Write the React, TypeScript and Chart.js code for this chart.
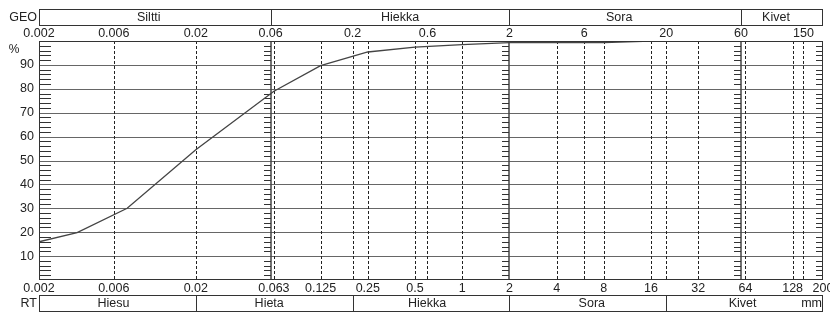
import React, { useEffect, useRef } from 'react';
import { Chart, registerables } from 'chart.js';

Chart.register(...registerables);

// Grain size (mm) and percentage passing
const sizes = [0.002, 0.0035, 0.0073, 0.02, 0.063, 0.125, 0.25, 0.5, 1, 2, 4, 8, 16];
const passing = [16, 19.8, 30, 54.5, 79, 89.7, 95.4, 97.4, 98.5, 99.3, 99.3, 99.3, 100];

const topTicks = [0.002, 0.006, 0.02, 0.06, 0.2, 0.6, 2, 6, 20, 60, 150];
const topTickLabels = ['0.002', '0.006', '0.02', '0.06', '0.2', '0.6', '2', '6', '20', '60', '150'];
const bottomTicks = [0.002, 0.006, 0.02, 0.063, 0.125, 0.25, 0.5, 1, 2, 4, 8, 16, 32, 64, 128, 200];
const bottomTickLabels = ['0.002', '0.006', '0.02', '0.063', '0.125', '0.25', '0.5', '1', '2', '4', '8', '16', '32', '64', '128', '200'];
const yTicks = [10, 20, 30, 40, 50, 60, 70, 80, 90];

const geoBounds = [0.002, 0.06, 2, 60, 200];
const geoNames = ['Siltti', 'Hiekka', 'Sora', 'Kivet'];
const rtBounds = [0.002, 0.02, 0.2, 2, 20, 200];
const rtNames = ['Hiesu', 'Hieta', 'Hiekka', 'Sora', 'Kivet'];

// styling offsets (px) for the class labels
const geoLabelShift = [-6, 10, -6, -6];
const rtLabelShift = [-4, -5, -4, 4, -2];

const FONT = '"Liberation Sans", Arial, sans-serif';

const gradPlugin = {
  id: 'gradPlugin',
  beforeDatasetsDraw(chart: any) {
    const { ctx, chartArea } = chart;
    const xs = chart.scales.x;
    const ys = chart.scales.y;
    const px = (v: number) => Math.round(xs.getPixelForValue(v)) + 0.5;
    const py = (v: number) => Math.round(ys.getPixelForValue(v)) + 0.5;
    const top = Math.round(chartArea.top);
    const bottom = Math.round(chartArea.bottom);
    ctx.save();
    // horizontal gridlines
    ctx.strokeStyle = '#666';
    ctx.lineWidth = 1;
    yTicks.forEach((t) => {
      ctx.beginPath();
      ctx.moveTo(chartArea.left, py(t));
      ctx.lineTo(chartArea.right, py(t));
      ctx.stroke();
    });
    // dashed verticals
    const dashed = Array.from(new Set([...topTicks, ...bottomTicks])).filter(
      (v) => geoBounds.indexOf(v) < 0
    );
    ctx.strokeStyle = '#222';
    ctx.setLineDash([3, 2]);
    dashed.forEach((v) => {
      ctx.beginPath();
      ctx.moveTo(px(v), top);
      ctx.lineTo(px(v), bottom);
      ctx.stroke();
    });
    ctx.setLineDash([]);
    // solid class boundaries
    ctx.strokeStyle = '#444';
    ctx.lineWidth = 1.5;
    geoBounds.slice(1, -1).forEach((v) => {
      const x = Math.round(xs.getPixelForValue(v));
      ctx.beginPath();
      ctx.moveTo(x, top);
      ctx.lineTo(x, bottom);
      ctx.stroke();
    });
    // minor ticks every 2 %
    ctx.lineWidth = 1;
    ctx.strokeStyle = '#333';
    for (let p = 2; p < 100; p += 2) {
      if (p % 10 === 0) continue;
      const y = py(p);
      geoBounds.forEach((v, i) => {
        const x = Math.round(xs.getPixelForValue(v));
        ctx.beginPath();
        if (i === 0) {
          ctx.moveTo(x, y);
          ctx.lineTo(x + 12, y);
        } else {
          ctx.moveTo(x - 7, y);
          ctx.lineTo(x, y);
        }
        ctx.stroke();
      });
    }
    ctx.restore();
  },
  afterDatasetsDraw(chart: any) {
    const { ctx, chartArea } = chart;
    const xs = chart.scales.x;
    const ys = chart.scales.y;
    const px = (v: number) => Math.round(xs.getPixelForValue(v)) + 0.5;
    const left = Math.round(chartArea.left) + 0.5;
    const right = Math.round(chartArea.right) - 0.5;
    const top = Math.round(chartArea.top) + 0.5;
    const bottom = Math.round(chartArea.bottom) - 0.5;
    ctx.save();
    ctx.strokeStyle = '#333';
    ctx.lineWidth = 1;
    ctx.strokeRect(left, top, right - left, bottom - top);

    // top GEO box
    const gTop = 9.5, gBot = 25.5;
    ctx.strokeRect(left, gTop, right - left, gBot - gTop);
    geoBounds.slice(1, -1).forEach((v) => {
      ctx.beginPath();
      ctx.moveTo(px(v), gTop);
      ctx.lineTo(px(v), gBot);
      ctx.stroke();
    });
    // bottom RT box
    const rTop = 295.5, rBot = 311.5;
    ctx.strokeRect(left, rTop, right - left, rBot - rTop);
    rtBounds.slice(1, -1).forEach((v) => {
      ctx.beginPath();
      ctx.moveTo(px(v), rTop);
      ctx.lineTo(px(v), rBot);
      ctx.stroke();
    });

    ctx.fillStyle = '#222';
    ctx.font = '12.5px ' + FONT;
    ctx.textBaseline = 'middle';
    ctx.textAlign = 'center';
    geoNames.forEach((n, i) => {
      const cx = (xs.getPixelForValue(geoBounds[i]) + xs.getPixelForValue(geoBounds[i + 1])) / 2;
      ctx.fillText(n, cx + geoLabelShift[i], 18);
    });
    rtNames.forEach((n, i) => {
      const cx = (xs.getPixelForValue(rtBounds[i]) + xs.getPixelForValue(rtBounds[i + 1])) / 2;
      ctx.fillText(n, cx + rtLabelShift[i], 304);
    });
    topTicks.forEach((v, i) => ctx.fillText(topTickLabels[i], xs.getPixelForValue(v), 34));
    bottomTicks.forEach((v, i) => ctx.fillText(bottomTickLabels[i], xs.getPixelForValue(v), 289));

    ctx.textAlign = 'right';
    yTicks.forEach((t) => ctx.fillText(String(t), 34, ys.getPixelForValue(t)));
    ctx.fillText('GEO', 37, 18);
    ctx.fillText('RT', 37, 304);
    ctx.fillText('mm', 822, 304);
    ctx.textAlign = 'center';
    ctx.font = '12px ' + FONT;
    ctx.fillText('%', 14, 50);
    ctx.restore();
  },
};

export default function App() {
  const ref = useRef<HTMLCanvasElement>(null);
  useEffect(() => {
    if (!ref.current) return;
    const chart = new Chart(ref.current, {
      type: 'line',
      data: {
        datasets: [
          {
            data: sizes.map((s, i) => ({ x: s, y: passing[i] })),
            borderColor: '#444',
            borderWidth: 1.3,
            pointRadius: 0,
            tension: 0,
            fill: false,
          },
        ],
      },
      options: {
        responsive: false,
        animation: false,
        devicePixelRatio: 1,
        layout: { padding: { left: 39, right: 7, top: 41, bottom: 32 } },
        plugins: { legend: { display: false }, tooltip: { enabled: false } },
        scales: {
          x: { type: 'logarithmic', min: 0.002, max: 200, display: false },
          y: { type: 'linear', min: 0, max: 100, display: false },
        },
      },
      plugins: [gradPlugin],
    } as any);
    return () => chart.destroy();
  }, []);
  return (
    <div style={{ position: 'absolute', left: 0, top: 0, width: 830, height: 312, background: '#fff' }}>
      <canvas ref={ref} width={830} height={312} style={{ display: 'block' }} />
    </div>
  );
}
